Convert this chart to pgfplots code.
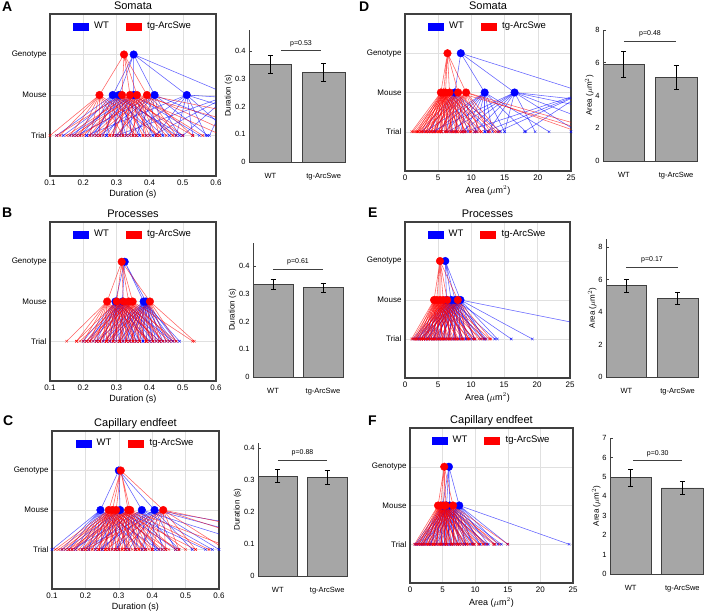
\documentclass[border=0pt]{standalone}
\usepackage{fontspec}
\setmainfont{Liberation Sans}
\usepackage{pgfplots}
\usepackage{pgfplotstable}
\pgfplotsset{compat=1.18}

\definecolor{wt}{RGB}{0,0,255}
\definecolor{tg}{RGB}{255,0,0}
\definecolor{barg}{RGB}{166,166,166}
\definecolor{frame}{RGB}{64,64,64}
\newcommand{\fs}[1]{\fontsize{#1}{#1}\selectfont}

% ---------- trial tables: t = trial value, m = mouse value ----------
\pgfplotstableread[row sep=\\]{t m\\
0.12 0.289\\ 0.17 0.289\\ 0.21 0.289\\ 0.24 0.289\\ 0.27 0.289\\ 0.30 0.289\\ 0.33 0.289\\ 0.37 0.289\\ 0.42 0.289\\ 0.50 0.289\\
0.14 0.308\\ 0.19 0.308\\ 0.23 0.308\\ 0.26 0.308\\ 0.29 0.308\\ 0.32 0.308\\ 0.35 0.308\\ 0.39 0.308\\ 0.44 0.308\\ 0.48 0.308\\
0.16 0.352\\ 0.22 0.352\\ 0.27 0.352\\ 0.31 0.352\\ 0.34 0.352\\ 0.37 0.352\\ 0.41 0.352\\ 0.46 0.352\\ 0.55 0.352\\
0.18 0.415\\ 0.25 0.415\\ 0.30 0.415\\ 0.36 0.415\\ 0.40 0.415\\ 0.44 0.415\\ 0.49 0.415\\ 0.575 0.415\\ 0.72 0.415\\
0.21 0.512\\ 0.33 0.512\\ 0.42 0.512\\ 0.48 0.512\\ 0.53 0.512\\ 0.57 0.512\\ 0.65 0.512\\ 0.90 0.512\\ 2.40 0.512\\
0.30 0.64\\ 0.41 0.64\\ 0.50 0.64\\ 0.58 0.64\\ 0.75 0.64\\ 1.20 0.64\\
}\Awt
\pgfplotstableread[row sep=\\]{t m\\
0.10 0.249\\ 0.13 0.249\\ 0.16 0.249\\ 0.19 0.249\\ 0.22 0.249\\ 0.25 0.249\\ 0.28 0.249\\ 0.32 0.249\\ 0.36 0.249\\ 0.43 0.249\\
0.12 0.317\\ 0.18 0.317\\ 0.22 0.317\\ 0.26 0.317\\ 0.29 0.317\\ 0.32 0.317\\ 0.35 0.317\\ 0.38 0.317\\ 0.42 0.317\\ 0.47 0.317\\ 0.53 0.317\\
0.15 0.341\\ 0.20 0.341\\ 0.25 0.341\\ 0.29 0.341\\ 0.33 0.341\\ 0.36 0.341\\ 0.40 0.341\\ 0.45 0.341\\ 0.50 0.341\\ 0.62 0.341\\
0.17 0.362\\ 0.23 0.362\\ 0.28 0.362\\ 0.31 0.362\\ 0.35 0.362\\ 0.39 0.362\\ 0.42 0.362\\ 0.47 0.362\\ 0.56 0.362\\ 0.80 0.362\\
0.19 0.392\\ 0.24 0.392\\ 0.30 0.392\\ 0.34 0.392\\ 0.38 0.392\\ 0.43 0.392\\ 0.48 0.392\\ 0.53 0.392\\ 0.66 0.392\\ 1.00 0.392\\
}\Atg
\pgfplotstableread[row sep=\\]{t m\\
0.20 0.297\\ 0.22 0.297\\ 0.24 0.297\\ 0.26 0.297\\ 0.28 0.297\\ 0.29 0.297\\ 0.30 0.297\\ 0.31 0.297\\ 0.33 0.297\\ 0.35 0.297\\ 0.37 0.297\\ 0.40 0.297\\ 0.43 0.297\\
0.21 0.318\\ 0.23 0.318\\ 0.25 0.318\\ 0.27 0.318\\ 0.29 0.318\\ 0.31 0.318\\ 0.32 0.318\\ 0.34 0.318\\ 0.36 0.318\\ 0.38 0.318\\ 0.41 0.318\\ 0.44 0.318\\ 0.47 0.318\\
0.24 0.382\\ 0.28 0.382\\ 0.31 0.382\\ 0.33 0.382\\ 0.35 0.382\\ 0.37 0.382\\ 0.38 0.382\\ 0.40 0.382\\ 0.41 0.382\\ 0.43 0.382\\ 0.45 0.382\\ 0.47 0.382\\ 0.49 0.382\\
0.26 0.389\\ 0.29 0.389\\ 0.32 0.389\\ 0.34 0.389\\ 0.36 0.389\\ 0.38 0.389\\ 0.39 0.389\\ 0.41 0.389\\ 0.42 0.389\\ 0.44 0.389\\ 0.46 0.389\\ 0.48 0.389\\
}\Bwt
\pgfplotstableread[row sep=\\]{t m\\
0.15 0.272\\ 0.18 0.272\\ 0.20 0.272\\ 0.22 0.272\\ 0.24 0.272\\ 0.26 0.272\\ 0.27 0.272\\ 0.29 0.272\\ 0.31 0.272\\ 0.33 0.272\\ 0.36 0.272\\ 0.40 0.272\\
0.18 0.301\\ 0.21 0.301\\ 0.23 0.301\\ 0.25 0.301\\ 0.27 0.301\\ 0.29 0.301\\ 0.30 0.301\\ 0.32 0.301\\ 0.34 0.301\\ 0.36 0.301\\ 0.39 0.301\\ 0.43 0.301\\
0.19 0.321\\ 0.22 0.321\\ 0.25 0.321\\ 0.27 0.321\\ 0.29 0.321\\ 0.31 0.321\\ 0.33 0.321\\ 0.35 0.321\\ 0.37 0.321\\ 0.39 0.321\\ 0.42 0.321\\ 0.46 0.321\\
0.21 0.337\\ 0.24 0.337\\ 0.27 0.337\\ 0.29 0.337\\ 0.31 0.337\\ 0.33 0.337\\ 0.35 0.337\\ 0.37 0.337\\ 0.39 0.337\\ 0.41 0.337\\ 0.44 0.337\\ 0.48 0.337\\
0.22 0.349\\ 0.25 0.349\\ 0.28 0.349\\ 0.31 0.349\\ 0.33 0.349\\ 0.35 0.349\\ 0.37 0.349\\ 0.39 0.349\\ 0.41 0.349\\ 0.44 0.349\\ 0.47 0.349\\ 0.53 0.349\\
0.27 0.401\\ 0.31 0.401\\ 0.34 0.401\\ 0.37 0.401\\ 0.39 0.401\\ 0.41 0.401\\ 0.43 0.401\\ 0.45 0.401\\ 0.48 0.401\\ 0.535 0.401\\
}\Btg
\pgfplotstableread[row sep=\\]{t m\\
0.10 0.245\\ 0.13 0.245\\ 0.15 0.245\\ 0.17 0.245\\ 0.19 0.245\\ 0.21 0.245\\ 0.23 0.245\\ 0.25 0.245\\ 0.27 0.245\\ 0.30 0.245\\ 0.33 0.245\\ 0.37 0.245\\ 0.42 0.245\\
0.14 0.304\\ 0.17 0.304\\ 0.20 0.304\\ 0.23 0.304\\ 0.25 0.304\\ 0.28 0.304\\ 0.30 0.304\\ 0.32 0.304\\ 0.35 0.304\\ 0.38 0.304\\ 0.42 0.304\\ 0.47 0.304\\ 0.56 0.304\\
0.16 0.369\\ 0.21 0.369\\ 0.25 0.369\\ 0.29 0.369\\ 0.32 0.369\\ 0.35 0.369\\ 0.38 0.369\\ 0.41 0.369\\ 0.44 0.369\\ 0.48 0.369\\ 0.58 0.369\\ 0.75 0.369\\
0.19 0.407\\ 0.24 0.407\\ 0.29 0.407\\ 0.33 0.407\\ 0.37 0.407\\ 0.40 0.407\\ 0.43 0.407\\ 0.47 0.407\\ 0.52 0.407\\ 0.60 0.407\\ 0.85 0.407\\ 1.10 0.407\\
}\Cwt
\pgfplotstableread[row sep=\\]{t m\\
0.11 0.270\\ 0.14 0.270\\ 0.17 0.270\\ 0.20 0.270\\ 0.22 0.270\\ 0.24 0.270\\ 0.26 0.270\\ 0.28 0.270\\ 0.31 0.270\\ 0.34 0.270\\ 0.38 0.270\\ 0.45 0.270\\
0.12 0.281\\ 0.15 0.281\\ 0.18 0.281\\ 0.21 0.281\\ 0.24 0.281\\ 0.26 0.281\\ 0.28 0.281\\ 0.30 0.281\\ 0.33 0.281\\ 0.36 0.281\\ 0.40 0.281\\ 0.48 0.281\\
0.13 0.292\\ 0.16 0.292\\ 0.19 0.292\\ 0.22 0.292\\ 0.25 0.292\\ 0.27 0.292\\ 0.29 0.292\\ 0.32 0.292\\ 0.35 0.292\\ 0.38 0.292\\ 0.43 0.292\\ 0.53 0.292\\
0.15 0.328\\ 0.19 0.328\\ 0.23 0.328\\ 0.26 0.328\\ 0.29 0.328\\ 0.31 0.328\\ 0.33 0.328\\ 0.36 0.328\\ 0.39 0.328\\ 0.42 0.328\\ 0.47 0.328\\ 0.57 0.328\\
0.16 0.334\\ 0.20 0.334\\ 0.24 0.334\\ 0.27 0.334\\ 0.30 0.334\\ 0.32 0.334\\ 0.35 0.334\\ 0.37 0.334\\ 0.40 0.334\\ 0.44 0.334\\ 0.50 0.334\\ 0.65 0.334\\
0.20 0.433\\ 0.26 0.433\\ 0.31 0.433\\ 0.36 0.433\\ 0.40 0.433\\ 0.44 0.433\\ 0.48 0.433\\ 0.53 0.433\\ 0.62 0.433\\ 0.80 0.433\\ 1.00 0.433\\
}\Ctg
\pgfplotstableread[row sep=\\]{t m\\
2.5 7.5\\ 3.5 7.5\\ 4.5 7.5\\ 5.5 7.5\\ 6.2 7.5\\ 7.0 7.5\\ 7.8 7.5\\ 8.6 7.5\\ 9.5 7.5\\ 10.8 7.5\\ 12.5 7.5\\ 14.4 7.5\\
3.0 12.0\\ 4.5 12.0\\ 6.0 12.0\\ 7.5 12.0\\ 9.0 12.0\\ 10.5 12.0\\ 12.0 12.0\\ 13.2 12.0\\ 15.0 12.0\\ 18.2 12.0\\ 21.7 12.0\\
4.0 16.5\\ 6.5 16.5\\ 8.5 16.5\\ 10.5 16.5\\ 12.5 16.5\\ 15.0 16.5\\ 19.6 16.5\\ 26 16.5\\ 32 16.5\\ 45 16.5\\ 70 16.5\\
9 27\\ 12 27\\ 14 27\\ 18 27\\ 25 27\\ 35 27\\ 50 27\\
}\Dwt
\pgfplotstableread[row sep=\\]{t m\\
1.0 5.4\\ 1.8 5.4\\ 2.5 5.4\\ 3.2 5.4\\ 4.0 5.4\\ 4.8 5.4\\ 5.5 5.4\\ 6.3 5.4\\ 7.2 5.4\\ 8.5 5.4\\ 10.5 5.4\\
1.2 5.8\\ 2.0 5.8\\ 2.8 5.8\\ 3.6 5.8\\ 4.4 5.8\\ 5.2 5.8\\ 6.0 5.8\\ 6.8 5.8\\ 7.8 5.8\\ 9.2 5.8\\ 11.5 5.8\\
1.5 6.1\\ 2.3 6.1\\ 3.1 6.1\\ 3.9 6.1\\ 4.7 6.1\\ 5.5 6.1\\ 6.3 6.1\\ 7.2 6.1\\ 8.2 6.1\\ 9.8 6.1\\ 12.5 6.1\\
1.8 6.7\\ 2.7 6.7\\ 3.5 6.7\\ 4.3 6.7\\ 5.1 6.7\\ 6.0 6.7\\ 6.9 6.7\\ 7.9 6.7\\ 9.0 6.7\\ 10.8 6.7\\ 13.5 6.7\\
2.0 8.0\\ 3.2 8.0\\ 4.3 8.0\\ 5.4 8.0\\ 6.5 8.0\\ 7.6 8.0\\ 8.8 8.0\\ 10.0 8.0\\ 11.5 8.0\\ 13.8 8.0\\ 28 8.0\\
2.5 9.2\\ 3.8 9.2\\ 5.0 9.2\\ 6.2 9.2\\ 7.4 9.2\\ 8.6 9.2\\ 9.8 9.2\\ 11.2 9.2\\ 12.8 9.2\\ 14.2 9.2\\ 26 9.2\\ 30 9.2\\
}\Dtg
\pgfplotstableread[row sep=\\]{t m\\
1.2 6.3\\ 2.0 6.3\\ 2.8 6.3\\ 3.6 6.3\\ 4.4 6.3\\ 5.2 6.3\\ 6.0 6.3\\ 6.8 6.3\\ 7.7 6.3\\ 8.8 6.3\\ 10.2 6.3\\ 12.0 6.3\\
1.5 7.0\\ 2.4 7.0\\ 3.3 7.0\\ 4.2 7.0\\ 5.0 7.0\\ 5.9 7.0\\ 6.8 7.0\\ 7.7 7.0\\ 8.7 7.0\\ 9.9 7.0\\ 11.5 7.0\\ 13.6 7.0\\
1.8 7.6\\ 2.8 7.6\\ 3.8 7.6\\ 4.7 7.6\\ 5.6 7.6\\ 6.5 7.6\\ 7.4 7.6\\ 8.3 7.6\\ 9.3 7.6\\ 10.6 7.6\\ 12.3 7.6\\ 16.1 7.6\\
2.2 8.4\\ 3.2 8.4\\ 4.2 8.4\\ 5.2 8.4\\ 6.2 8.4\\ 7.2 8.4\\ 8.2 8.4\\ 9.2 8.4\\ 10.5 8.4\\ 12.0 8.4\\ 14.0 8.4\\ 19.3 8.4\\ 38 8.4\\
}\Ewt
\pgfplotstableread[row sep=\\]{t m\\
1.0 4.4\\ 1.6 4.4\\ 2.2 4.4\\ 2.8 4.4\\ 3.4 4.4\\ 4.0 4.4\\ 4.6 4.4\\ 5.2 4.4\\ 5.9 4.4\\ 6.8 4.4\\ 8.0 4.4\\ 9.8 4.4\\
1.2 4.8\\ 1.8 4.8\\ 2.5 4.8\\ 3.1 4.8\\ 3.8 4.8\\ 4.4 4.8\\ 5.0 4.8\\ 5.7 4.8\\ 6.5 4.8\\ 7.4 4.8\\ 8.7 4.8\\ 10.6 4.8\\
1.4 5.3\\ 2.1 5.3\\ 2.8 5.3\\ 3.5 5.3\\ 4.2 5.3\\ 4.9 5.3\\ 5.6 5.3\\ 6.3 5.3\\ 7.1 5.3\\ 8.1 5.3\\ 9.5 5.3\\ 11.5 5.3\\
1.6 5.8\\ 2.4 5.8\\ 3.1 5.8\\ 3.9 5.8\\ 4.6 5.8\\ 5.4 5.8\\ 6.1 5.8\\ 6.9 5.8\\ 7.8 5.8\\ 8.9 5.8\\ 10.3 5.8\\ 12.2 5.8\\
1.8 6.4\\ 2.7 6.4\\ 3.5 6.4\\ 4.3 6.4\\ 5.1 6.4\\ 5.9 6.4\\ 6.7 6.4\\ 7.6 6.4\\ 8.6 6.4\\ 9.7 6.4\\ 11.2 6.4\\ 12.8 6.4\\
2.5 8.0\\ 3.5 8.0\\ 4.5 8.0\\ 5.5 8.0\\ 6.5 8.0\\ 7.5 8.0\\ 8.5 8.0\\ 9.5 8.0\\ 10.6 8.0\\ 11.8 8.0\\ 13.0 8.0\\
}\Etg
\pgfplotstableread[row sep=\\]{t m\\
0.8 5.0\\ 1.6 5.0\\ 2.4 5.0\\ 3.2 5.0\\ 4.0 5.0\\ 4.8 5.0\\ 5.6 5.0\\ 6.4 5.0\\ 7.3 5.0\\ 8.4 5.0\\ 9.8 5.0\\ 11.8 5.0\\
1.0 5.6\\ 1.9 5.6\\ 2.8 5.6\\ 3.6 5.6\\ 4.5 5.6\\ 5.3 5.6\\ 6.1 5.6\\ 7.0 5.6\\ 8.0 5.6\\ 9.2 5.6\\ 10.8 5.6\\ 13.0 5.6\\
1.3 6.1\\ 2.2 6.1\\ 3.1 6.1\\ 4.0 6.1\\ 4.9 6.1\\ 5.8 6.1\\ 6.7 6.1\\ 7.6 6.1\\ 8.6 6.1\\ 9.8 6.1\\ 11.5 6.1\\ 14.0 6.1\\
1.8 7.55\\ 2.9 7.55\\ 4.0 7.55\\ 5.1 7.55\\ 6.2 7.55\\ 7.3 7.55\\ 8.4 7.55\\ 9.5 7.55\\ 10.7 7.55\\ 12.0 7.55\\ 13.5 7.55\\ 15.0 7.55\\ 24.4 7.55\\
}\Fwt
\pgfplotstableread[row sep=\\]{t m\\
0.7 4.3\\ 1.4 4.3\\ 2.1 4.3\\ 2.8 4.3\\ 3.5 4.3\\ 4.2 4.3\\ 4.9 4.3\\ 5.6 4.3\\ 6.4 4.3\\ 7.4 4.3\\ 8.7 4.3\\ 10.5 4.3\\
0.9 4.7\\ 1.7 4.7\\ 2.5 4.7\\ 3.3 4.7\\ 4.0 4.7\\ 4.8 4.7\\ 5.5 4.7\\ 6.3 4.7\\ 7.2 4.7\\ 8.3 4.7\\ 9.7 4.7\\ 11.8 4.7\\
1.1 5.2\\ 1.9 5.2\\ 2.8 5.2\\ 3.6 5.2\\ 4.4 5.2\\ 5.2 5.2\\ 6.0 5.2\\ 6.9 5.2\\ 7.9 5.2\\ 9.0 5.2\\ 10.6 5.2\\ 12.8 5.2\\
1.2 5.5\\ 2.1 5.5\\ 3.0 5.5\\ 3.8 5.5\\ 4.7 5.5\\ 5.5 5.5\\ 6.4 5.5\\ 7.3 5.5\\ 8.3 5.5\\ 9.5 5.5\\ 11.2 5.5\\ 13.7 5.5\\
1.6 6.6\\ 2.6 6.6\\ 3.6 6.6\\ 4.6 6.6\\ 5.6 6.6\\ 6.6 6.6\\ 7.6 6.6\\ 8.7 6.6\\ 9.9 6.6\\ 11.3 6.6\\ 13.0 6.6\\ 15.0 6.6\\
}\Ftg

\pgfplotsset{
 tree/.style={scale only axis, ymin=-1, ymax=3, ytick={0,1,2},
   yticklabels={Trial,Mouse,Genotype}, grid=major,
   major grid style={black!12, line width=0.4pt},
   axis line style={draw=frame, line width=1.3pt},
   major tick length=0pt, ticklabel style={font=\fs{8}},
   /pgf/number format/assume math mode=true,
   title style={font=\fs{11}, at={(0.5,1)}, anchor=base, yshift=-1pt},
   xlabel style={font=\fs{9}, at={(0.5,0)}, anchor=base, yshift=-20pt},
   legend style={draw=none, fill=none, at={(0.5,1)}, anchor=north, yshift=-4pt,
     legend columns=2, font=\fs{9.5},
     /tikz/every even column/.append style={column sep=15pt}},
   legend cell align=left},
 durx/.style={xmin=0.1, xmax=0.6, xtick={0.1,0.2,0.3,0.4,0.5,0.6}, xlabel={Duration (s)}},
 areax/.style={xmin=0, xmax=25, xtick={0,5,10,15,20,25}, xlabel={Area ($\mu$m$^2$)}},
 wtl/.style={wt, opacity=0.62, line width=0.55pt, mark=none},
 tgl/.style={tg, opacity=0.62, line width=0.55pt, mark=none},
 wtx/.style={only marks, mark=x, mark size=1.8pt, wt, opacity=0.8, mark options={line width=0.45pt}},
 tgx/.style={only marks, mark=x, mark size=1.8pt, tg, opacity=0.8, mark options={line width=0.45pt}},
 wtd/.style={only marks, mark=*, mark size=3.8pt, mark options={draw=wt, fill=wt}},
 tgd/.style={only marks, mark=*, mark size=3.8pt, mark options={draw=tg, fill=tg}},
 barax/.style={scale only axis, ybar, bar width=0.8, xmin=0.6, xmax=2.4, ymin=0,
   xtick={1,2}, xticklabels={WT,tg-ArcSwe}, axis x line*=bottom, axis y line*=left,
   tick pos=left, axis line style={draw=frame, line width=0.8pt},
   x tick style={draw=none}, y tick style={draw=frame, line width=0.6pt},
   major tick length=2.5pt, tick align=inside, ticklabel style={font=\fs{7.5}},
   /pgf/number format/assume math mode=true, /pgf/number format/fixed,
   xticklabel style={yshift=-8pt}, ylabel style={font=\fs{8}}, clip=false},
 durbar/.style={ylabel={Duration (s)}, ytick={0,0.1,0.2,0.3,0.4}, ylabel shift=-4pt},
 areabar/.style={ylabel={Area ($\mu$m$^2$)}, ylabel shift=-5pt},
 bars/.style={fill=barg, draw=frame, line width=0.8pt,
   error bars/.cd, y dir=both, y explicit,
   error bar style={black, line width=0.8pt},
   error mark options={rotate=90, mark size=2.5pt, line width=0.8pt, black}}
}

% #1 wt table, #2 tg table, #3 wt genotype->mouse, #4 tg genotype->mouse,
% #5 wt mouse + genotype points, #6 tg mouse + genotype points
\newcommand{\treebody}[6]{%
 \addlegendimage{legend image code/.code={\fill[wt] (0pt,-3.5pt) rectangle (15pt,3.5pt); \path[draw=none] (15pt,0pt) -- (19pt,0pt);}}\addlegendentry{WT}
 \addlegendimage{legend image code/.code={\fill[tg] (0pt,-3.5pt) rectangle (15pt,3.5pt); \path[draw=none] (15pt,0pt) -- (19pt,0pt);}}\addlegendentry{tg-ArcSwe}
 \addplot[wtl, quiver={u=\thisrow{t}-\thisrow{m}, v=-1}] table[x=m, y expr=1] {#1};
 \addplot[tgl, quiver={u=\thisrow{t}-\thisrow{m}, v=-1}] table[x=m, y expr=1] {#2};
 \addplot[wtl] coordinates {#3};
 \addplot[tgl] coordinates {#4};
 \addplot[wtx] table[x=t, y expr=0] {#1};
 \addplot[tgx] table[x=t, y expr=0] {#2};
 \addplot[wtd] coordinates {#5};
 \addplot[tgd] coordinates {#6};
}

\begin{document}
\begin{tikzpicture}
\useasboundingbox (0pt,-613pt) rectangle (706pt,0pt);

% panel letters
\foreach \L/\X/\Y in {A/2/2, B/2/208, C/3/416, D/359/2, E/368/208, F/368/416}
  \node[anchor=north west, inner sep=0pt, font=\fs{14}\bfseries] at (\X pt,-\Y pt) {\L};

% ===== A =====
\begin{axis}[tree, durx, title={Somata}, at={(50pt,-176pt)}, anchor=south west, width=166pt, height=162pt]
\treebody{\Awt}{\Atg}
 {(0.352,2)(0.289,1)(0.352,2)(0.308,1)(0.352,2)(0.352,1)(0.352,2)(0.415,1)(0.352,2)(0.512,1)(0.352,2)(0.64,1)}
 {(0.323,2)(0.249,1)(0.323,2)(0.317,1)(0.323,2)(0.341,1)(0.323,2)(0.362,1)(0.323,2)(0.392,1)}
 {(0.289,1)(0.308,1)(0.352,1)(0.415,1)(0.512,1)(0.64,1)(0.352,2)}
 {(0.249,1)(0.317,1)(0.341,1)(0.362,1)(0.392,1)(0.323,2)}
\end{axis}
\begin{axis}[barax, durbar, at={(249pt,-162pt)}, anchor=south west, width=96pt, height=132pt, ymax=0.476]
\addplot[bars] coordinates {(1,0.352) +- (0,0.032) (2,0.323) +- (0,0.034)};
\draw[frame, line width=0.8pt] (axis cs:1.2,0.401) -- (axis cs:1.95,0.401) node[midway, above=0.5pt, font=\fs{7}, text=black] {p=0.53};
\end{axis}

% ===== B =====
\begin{axis}[tree, durx, title={Processes}, at={(50pt,-381pt)}, anchor=south west, width=166pt, height=159pt]
\treebody{\Bwt}{\Btg}
 {(0.325,2)(0.297,1)(0.325,2)(0.318,1)(0.325,2)(0.382,1)(0.325,2)(0.389,1)}
 {(0.316,2)(0.272,1)(0.316,2)(0.301,1)(0.316,2)(0.321,1)(0.316,2)(0.337,1)(0.316,2)(0.349,1)(0.316,2)(0.401,1)}
 {(0.297,1)(0.318,1)(0.382,1)(0.389,1)(0.325,2)}
 {(0.272,1)(0.301,1)(0.321,1)(0.337,1)(0.349,1)(0.401,1)(0.316,2)}
\end{axis}
\begin{axis}[barax, durbar, at={(253pt,-377pt)}, anchor=south west, width=90pt, height=134pt, ymax=0.483]
\addplot[bars] coordinates {(1,0.333) +- (0,0.018) (2,0.322) +- (0,0.017)};
\draw[frame, line width=0.8pt] (axis cs:1,0.388) -- (axis cs:2,0.388) node[midway, above=0.5pt, font=\fs{7}, text=black] {p=0.61};
\end{axis}

% ===== C =====
\begin{axis}[tree, durx, title={Capillary endfeet}, at={(52pt,-589pt)}, anchor=south west, width=167pt, height=158pt]
\treebody{\Cwt}{\Ctg}
 {(0.300,2)(0.245,1)(0.300,2)(0.304,1)(0.300,2)(0.369,1)(0.300,2)(0.407,1)}
 {(0.306,2)(0.270,1)(0.306,2)(0.281,1)(0.306,2)(0.292,1)(0.306,2)(0.328,1)(0.306,2)(0.334,1)(0.306,2)(0.433,1)}
 {(0.245,1)(0.304,1)(0.369,1)(0.407,1)(0.300,2)}
 {(0.270,1)(0.281,1)(0.292,1)(0.328,1)(0.334,1)(0.433,1)(0.306,2)}
\end{axis}
\begin{axis}[barax, durbar, at={(258pt,-576pt)}, anchor=south west, width=89pt, height=133pt, ymax=0.415]
\addplot[bars] coordinates {(1,0.312) +- (0,0.021) (2,0.307) +- (0,0.021)};
\draw[frame, line width=0.8pt] (axis cs:1,0.36) -- (axis cs:2,0.36) node[midway, above=0.5pt, font=\fs{7}, text=black] {p=0.88};
\end{axis}

% ===== D =====
\begin{axis}[tree, areax, title={Somata}, at={(405pt,-171pt)}, anchor=south west, width=166pt, height=157pt, xlabel style={yshift=-2pt}]
\treebody{\Dwt}{\Dtg}
 {(8.4,2)(7.5,1)(8.4,2)(12.0,1)(8.4,2)(16.5,1)(8.4,2)(27,1)}
 {(6.4,2)(5.4,1)(6.4,2)(5.8,1)(6.4,2)(6.1,1)(6.4,2)(6.7,1)(6.4,2)(8.0,1)(6.4,2)(9.2,1)}
 {(7.5,1)(12.0,1)(16.5,1)(27,1)(8.4,2)}
 {(5.4,1)(5.8,1)(6.1,1)(6.7,1)(8.0,1)(9.2,1)(6.4,2)}
\end{axis}
\begin{axis}[barax, areabar, at={(603pt,-161pt)}, anchor=south west, width=94pt, height=131pt, ymax=8, ytick={0,2,4,6,8}]
\addplot[bars] coordinates {(1,5.9) +- (0,0.8) (2,5.1) +- (0,0.72)};
\draw[frame, line width=0.8pt] (axis cs:1,7.33) -- (axis cs:2,7.33) node[midway, above=0.5pt, font=\fs{7}, text=black] {p=0.48};
\end{axis}

% ===== E =====
\begin{axis}[tree, areax, title={Processes}, at={(405pt,-378pt)}, anchor=south west, width=165pt, height=156pt, xlabel style={yshift=-2pt}]
\treebody{\Ewt}{\Etg}
 {(6.1,2)(6.3,1)(6.1,2)(7.0,1)(6.1,2)(7.6,1)(6.1,2)(8.4,1)}
 {(5.3,2)(4.4,1)(5.3,2)(4.8,1)(5.3,2)(5.3,1)(5.3,2)(5.8,1)(5.3,2)(6.4,1)(5.3,2)(8.0,1)}
 {(6.3,1)(7.0,1)(7.6,1)(8.4,1)(6.1,2)}
 {(4.4,1)(4.8,1)(5.3,1)(5.8,1)(6.4,1)(8.0,1)(5.3,2)}
\end{axis}
\begin{axis}[barax, areabar, at={(606pt,-377pt)}, anchor=south west, width=92pt, height=138pt, ymax=8.5, ytick={0,2,4,6,8}]
\addplot[bars] coordinates {(1,5.62) +- (0,0.42) (2,4.86) +- (0,0.38)};
\draw[frame, line width=0.8pt] (axis cs:1,6.77) -- (axis cs:2,6.77) node[midway, above=0.5pt, font=\fs{7}, text=black] {p=0.17};
\end{axis}

% ===== F =====
\begin{axis}[tree, areax, title={Capillary endfeet}, at={(410pt,-583pt)}, anchor=south west, width=163pt, height=155pt, xlabel style={yshift=-2pt}]
\treebody{\Fwt}{\Ftg}
 {(5.97,2)(5.0,1)(5.97,2)(5.6,1)(5.97,2)(6.1,1)(5.97,2)(7.55,1)}
 {(5.25,2)(4.3,1)(5.25,2)(4.7,1)(5.25,2)(5.2,1)(5.25,2)(5.5,1)(5.25,2)(6.6,1)}
 {(5.0,1)(5.6,1)(6.1,1)(7.55,1)(5.97,2)}
 {(4.3,1)(4.7,1)(5.2,1)(5.5,1)(6.6,1)(5.25,2)}
\end{axis}
\begin{axis}[barax, areabar, at={(610pt,-574pt)}, anchor=south west, width=93pt, height=136pt, ymax=7, ytick={0,1,2,3,4,5,6,7}]
\addplot[bars] coordinates {(1,4.95) +- (0,0.42) (2,4.43) +- (0,0.35)};
\draw[frame, line width=0.8pt] (axis cs:1.05,5.83) -- (axis cs:2,5.83) node[midway, above=0.5pt, font=\fs{7}, text=black] {p=0.30};
\end{axis}
\end{tikzpicture}
\end{document}
